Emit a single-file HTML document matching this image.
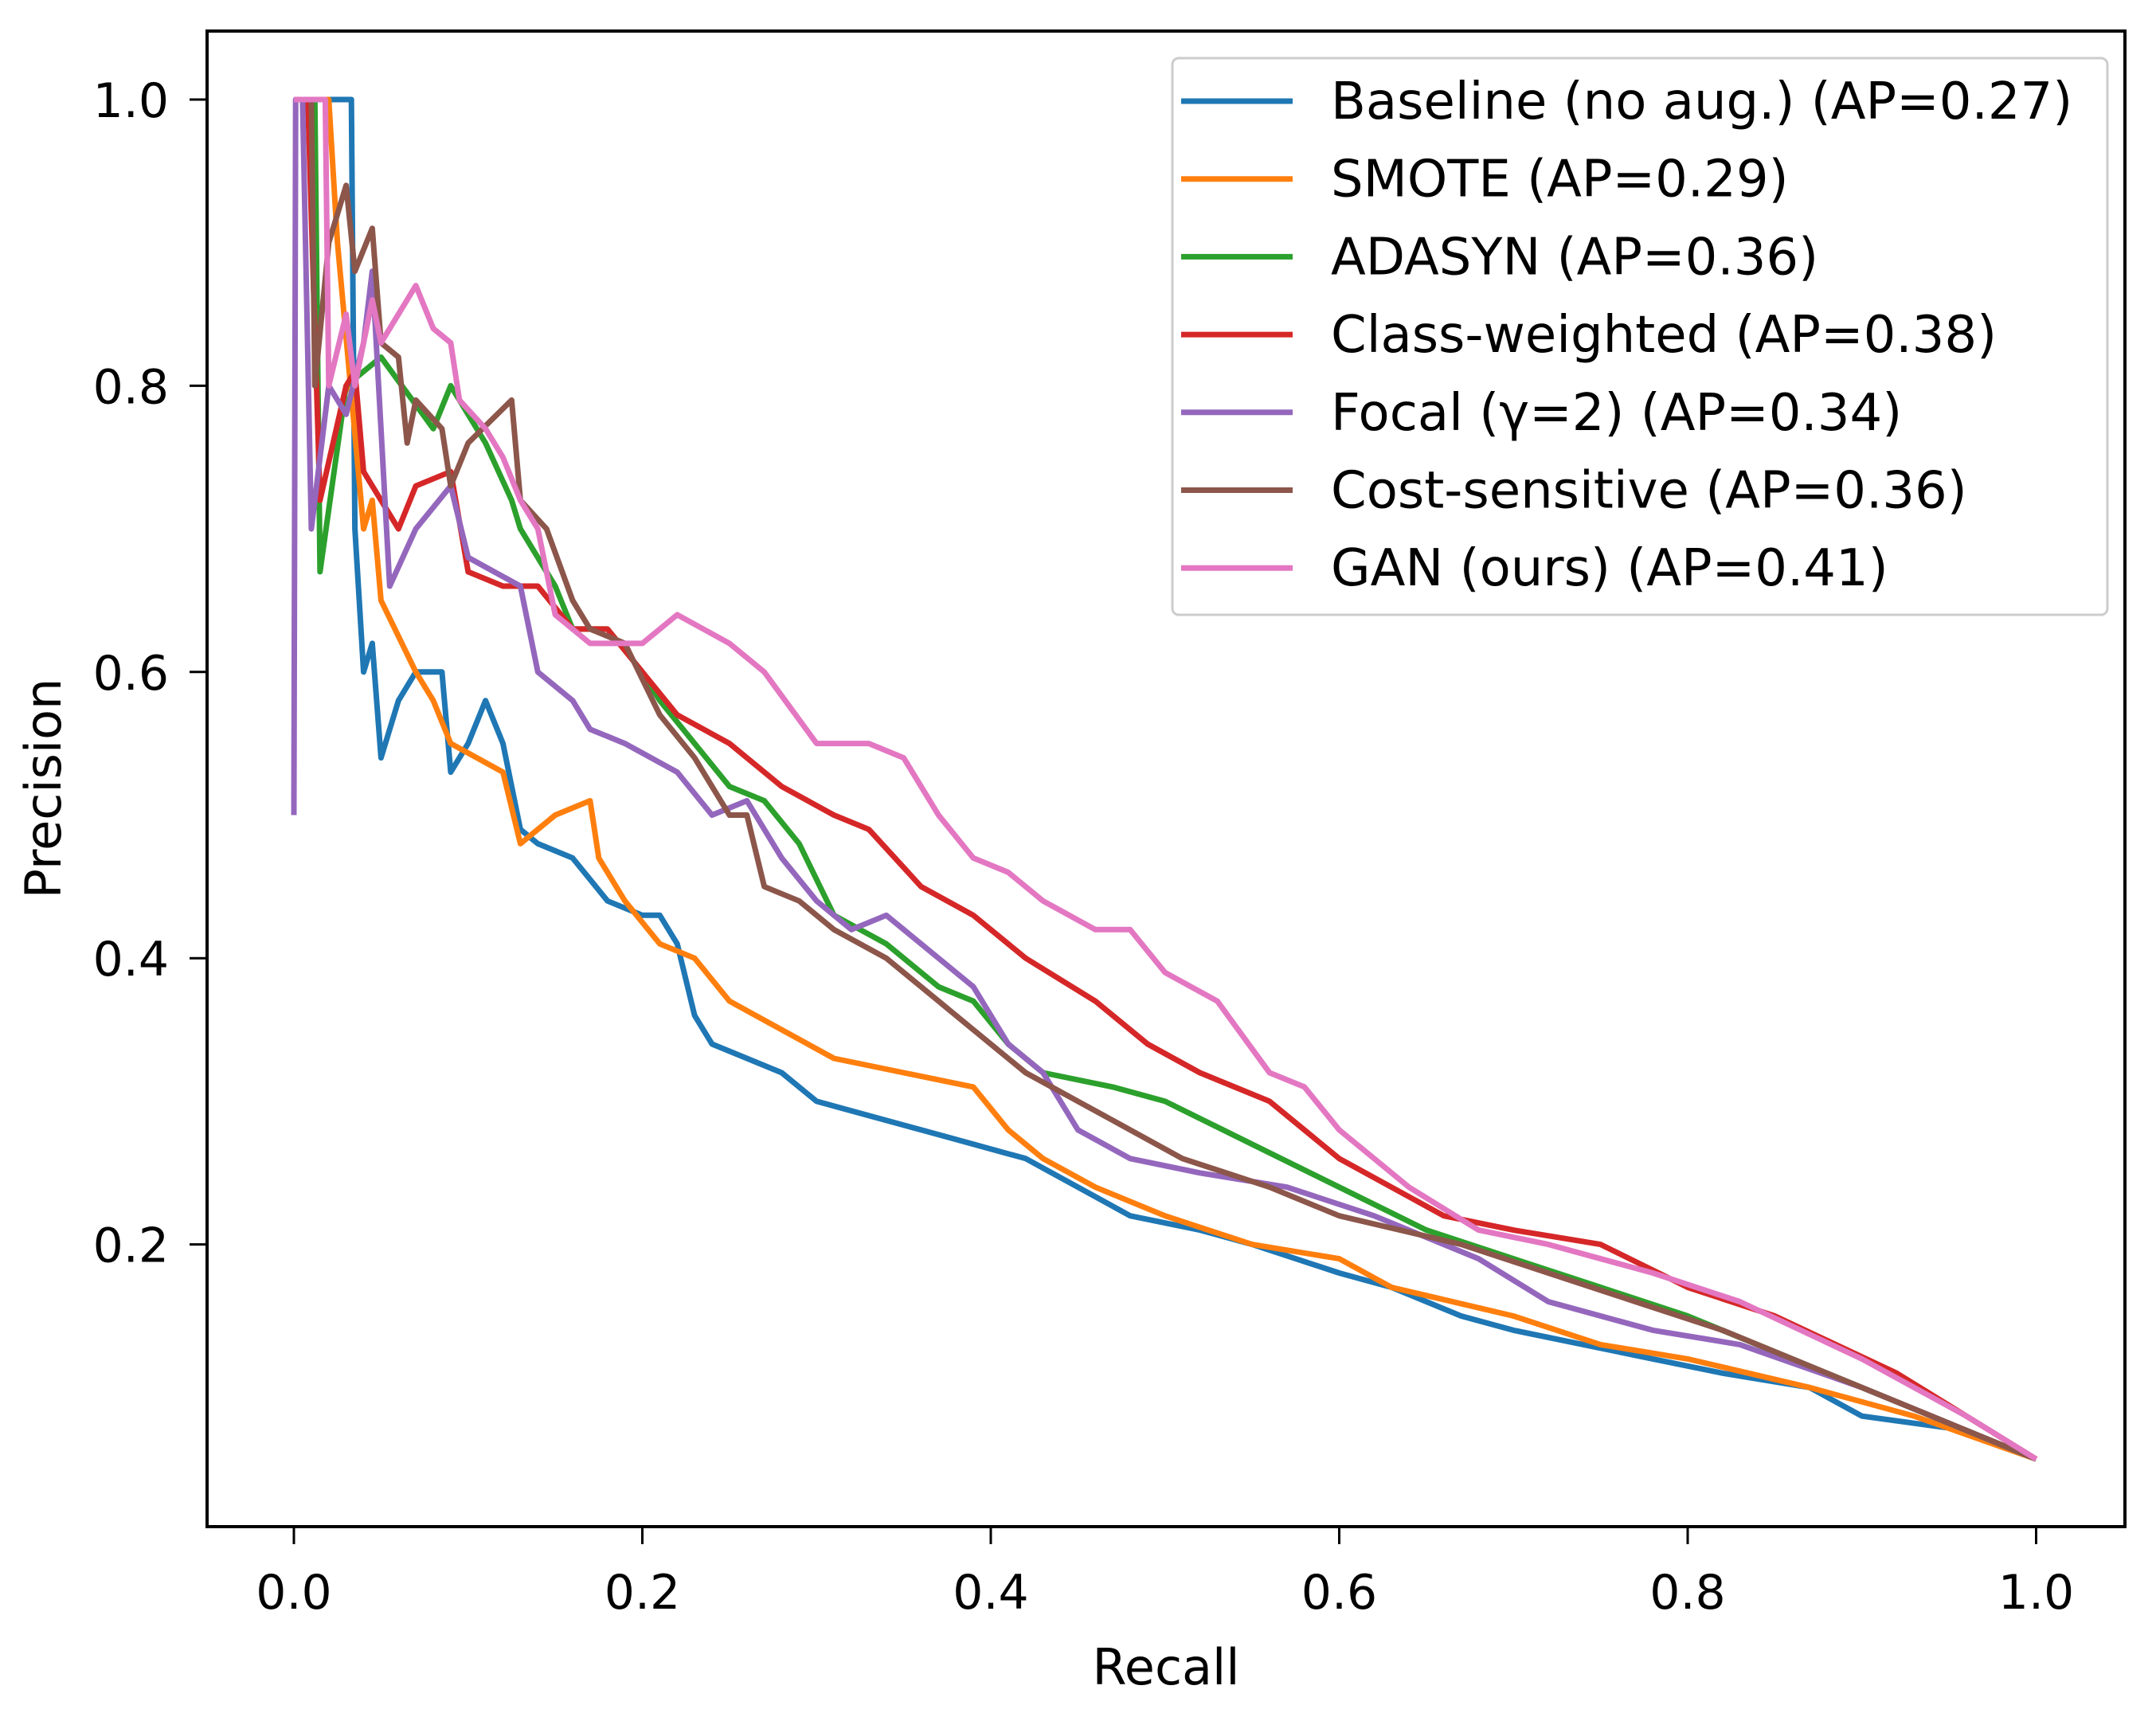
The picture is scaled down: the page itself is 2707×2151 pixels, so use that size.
<!DOCTYPE html>
<html><head><meta charset="utf-8"><style>
html,body{margin:0;padding:0;background:#fff;}
svg{display:block;font-family:"DejaVu Sans","Liberation Sans",sans-serif;}
</style></head><body>
<svg id="chart" width="2707" height="2151" viewBox="0 0 2707 2151" xmlns="http://www.w3.org/2000/svg">
<rect width="2707" height="2151" fill="#fff"/>
<g id="lines"></g>
<rect x="260" y="39" width="2408" height="1878" fill="none" stroke="#000" stroke-width="4"/>
<g id="xticks"></g>
<g id="yticks"></g>
<text x="1464" y="2115" font-size="62" text-anchor="middle">Recall</text>
<text x="0" y="0" font-size="62" text-anchor="middle" transform="translate(76,990) rotate(-90)">Precision</text>
<g id="legend"></g>
</svg>
<script>
const names=["Baseline (no aug.) (AP=0.27)","SMOTE (AP=0.29)","ADASYN (AP=0.36)","Class-weighted (AP=0.38)","Focal (γ=2) (AP=0.34)","Cost-sensitive (AP=0.36)","GAN (ours) (AP=0.41)"];
const colors=["#1f77b4","#ff7f0e","#2ca02c","#d62728","#9467bd","#8c564b","#e377c2"];
const xTicks=[0,0.2,0.4,0.6,0.8,1.0];
const yTicks=[0.2,0.4,0.6,0.8,1.0];
const baselineR=[0,0.033,0.035,0.04,0.045,0.05,0.06,0.07,0.085,0.09,0.1,0.11,0.12,0.13,0.14,0.16,0.18,0.2,0.21,0.22,0.23,0.24,0.26,0.28,0.3,0.33,0.36,0.39,0.42,0.45,0.48,0.52,0.55,0.6,0.63,0.67,0.7,0.78,0.82,0.87,0.9,0.96,1.0];
const baselineP=[1,1,0.7,0.6,0.62,0.54,0.58,0.6,0.6,0.53,0.55,0.58,0.55,0.49,0.48,0.47,0.44,0.43,0.43,0.41,0.36,0.34,0.33,0.32,0.30,0.29,0.28,0.27,0.26,0.24,0.22,0.21,0.2,0.18,0.17,0.15,0.14,0.12,0.11,0.1,0.08,0.07,0.05];
const smoteR=[0,0.02,0.025,0.04,0.045,0.05,0.07,0.08,0.09,0.12,0.13,0.15,0.17,0.175,0.19,0.21,0.23,0.25,0.28,0.31,0.35,0.39,0.41,0.43,0.46,0.5,0.55,0.6,0.63,0.7,0.75,0.8,0.87,0.93,1.0];
const smoteP=[1,1,0.9,0.7,0.72,0.65,0.6,0.58,0.55,0.53,0.48,0.5,0.51,0.47,0.44,0.41,0.40,0.37,0.35,0.33,0.32,0.31,0.28,0.26,0.24,0.22,0.2,0.19,0.17,0.15,0.13,0.12,0.1,0.08,0.05];
const adasynR=[0,0.012,0.015,0.03,0.05,0.08,0.09,0.11,0.125,0.13,0.15,0.16,0.18,0.2,0.21,0.23,0.25,0.27,0.29,0.31,0.34,0.37,0.39,0.41,0.43,0.47,0.5,0.55,0.6,0.65,0.7,0.75,0.8,0.86,0.92,1.0];
const adasynP=[1,1,0.67,0.8,0.82,0.77,0.8,0.76,0.72,0.7,0.66,0.63,0.63,0.6,0.58,0.55,0.52,0.51,0.48,0.43,0.41,0.38,0.37,0.34,0.32,0.31,0.3,0.27,0.24,0.21,0.19,0.17,0.15,0.12,0.09,0.05];
const classR=[0,0.008,0.015,0.03,0.035,0.04,0.05,0.06,0.07,0.09,0.1,0.12,0.14,0.16,0.18,0.2,0.22,0.25,0.28,0.31,0.33,0.36,0.39,0.42,0.46,0.49,0.52,0.56,0.6,0.66,0.7,0.75,0.8,0.85,0.92,1.0];
const classP=[1,1,0.72,0.8,0.81,0.74,0.72,0.7,0.73,0.74,0.67,0.66,0.66,0.63,0.63,0.6,0.57,0.55,0.52,0.5,0.49,0.45,0.43,0.4,0.37,0.34,0.32,0.3,0.26,0.22,0.21,0.2,0.17,0.15,0.11,0.05];
const focalR=[0,0.001,0.005,0.01,0.02,0.03,0.04,0.045,0.055,0.07,0.09,0.1,0.13,0.14,0.16,0.17,0.19,0.22,0.24,0.26,0.28,0.3,0.32,0.34,0.37,0.39,0.41,0.43,0.45,0.48,0.52,0.57,0.62,0.68,0.72,0.78,0.83,0.9,0.96,1.0];
const focalP=[0.5,1,1,0.7,0.8,0.78,0.83,0.88,0.66,0.7,0.73,0.68,0.66,0.6,0.58,0.56,0.55,0.53,0.5,0.51,0.47,0.44,0.42,0.43,0.4,0.38,0.34,0.32,0.28,0.26,0.25,0.24,0.22,0.19,0.16,0.14,0.13,0.1,0.07,0.05];
const costR=[0,0.01,0.012,0.02,0.03,0.035,0.045,0.05,0.06,0.065,0.07,0.085,0.09,0.1,0.125,0.13,0.145,0.16,0.17,0.19,0.21,0.23,0.25,0.26,0.27,0.29,0.31,0.34,0.37,0.39,0.42,0.45,0.48,0.51,0.56,0.6,0.67,0.72,0.77,0.82,0.88,0.94,1.0];
const costP=[1,1,0.8,0.9,0.94,0.88,0.91,0.83,0.82,0.76,0.79,0.77,0.73,0.76,0.79,0.72,0.7,0.65,0.63,0.62,0.57,0.54,0.5,0.5,0.45,0.44,0.42,0.4,0.37,0.35,0.32,0.3,0.28,0.26,0.24,0.22,0.2,0.18,0.16,0.14,0.11,0.08,0.05];
const ganR=[0,0.018,0.02,0.03,0.035,0.045,0.05,0.06,0.07,0.08,0.09,0.095,0.11,0.12,0.13,0.14,0.15,0.17,0.2,0.21,0.22,0.25,0.27,0.3,0.33,0.35,0.37,0.39,0.41,0.43,0.46,0.48,0.5,0.53,0.56,0.58,0.6,0.64,0.68,0.72,0.78,0.83,0.9,0.96,1.0];
const ganP=[1,1,0.8,0.85,0.8,0.86,0.83,0.85,0.87,0.84,0.83,0.79,0.77,0.75,0.72,0.7,0.64,0.62,0.62,0.63,0.64,0.62,0.6,0.55,0.55,0.54,0.5,0.47,0.46,0.44,0.42,0.42,0.39,0.37,0.32,0.31,0.28,0.24,0.21,0.2,0.18,0.16,0.12,0.08,0.05];
const seriesR=[baselineR,smoteR,adasynR,classR,focalR,costR,ganR];
const seriesP=[baselineP,smoteP,adasynP,classP,focalP,costP,ganP];
const seriesIds=["baseline","smote","adasyn","class-weighted","focal","cost-sensitive","gan"];

const NS="http://www.w3.org/2000/svg";
const xS=v=>369+v*2187.5;
const yS=v=>1922-v*1797;
function mk(tag,attrs,parent){const e=document.createElementNS(NS,tag);for(const k in attrs)e.setAttribute(k,attrs[k]);parent.appendChild(e);return e;}

const lines=document.getElementById('lines');
for(let s=0;s<seriesR.length;s++){
  const pts=seriesR[s].map((r,i)=>xS(r).toFixed(1)+","+yS(seriesP[s][i]).toFixed(1)).join(" ");
  const pl=mk('polyline',{points:pts,fill:'none',stroke:colors[s],'stroke-width':7,'stroke-linejoin':'round'},lines);
  
  
}
const xt=document.getElementById('xticks');
xTicks.forEach(v=>{
  const l=mk('line',{x1:xS(v),x2:xS(v),y1:1917,y2:1939,stroke:'#000','stroke-width':3},xt);
  
  
  const t=mk('text',{x:xS(v),y:2020,'font-size':60,'text-anchor':'middle'},xt);
  
  
  t.textContent=v.toFixed(1);
});
const yt=document.getElementById('yticks');
yTicks.forEach(v=>{
  const l=mk('line',{x1:238,x2:260,y1:yS(v),y2:yS(v),stroke:'#000','stroke-width':3},yt);
  
  
  const t=mk('text',{x:212,y:yS(v)+22,'font-size':60,'text-anchor':'end'},yt);
  
  
  t.textContent=v.toFixed(1);
});
const lg=document.getElementById('legend');
const box=mk('rect',{x:1472,y:73,width:1174,height:699,rx:8,fill:'#fff','fill-opacity':0.8,stroke:'#ccc','stroke-width':3},lg);


names.forEach((n,i)=>{
  const y=127+i*97.7;
  const l=mk('line',{x1:1483,x2:1623,y1:y,y2:y,stroke:colors[i],'stroke-width':7},lg);
  
  
  const t=mk('text',{x:1671,y:y+22,'font-size':64},lg);
  
  
  t.textContent=n;
});
</script>
</body></html>
